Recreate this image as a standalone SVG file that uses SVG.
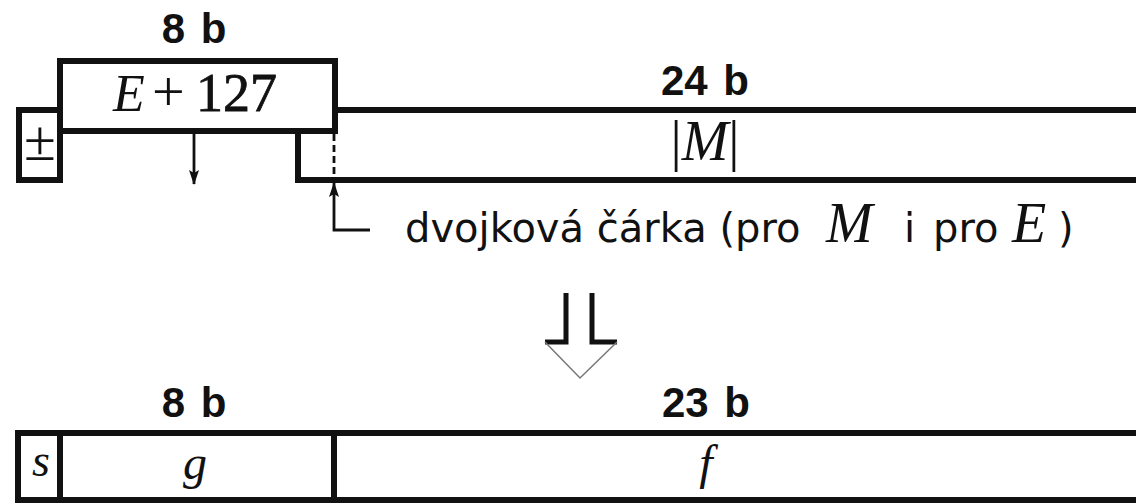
<svg xmlns="http://www.w3.org/2000/svg" width="1136" height="503" viewBox="0 0 1136 503">
<style>
.box{fill:none;stroke:#111;stroke-width:6;stroke-linecap:square;stroke-linejoin:miter}
.thin{fill:none;stroke:#111;stroke-width:2.8}
.bits{font-family:"Liberation Sans",Arial,sans-serif;font-weight:bold;font-size:42px;fill:#111;text-anchor:middle;word-spacing:4px}
.math{font-family:"Liberation Serif","Times New Roman",serif;fill:#111}
.it{font-style:italic}
.cap{font-family:"DejaVu Sans",sans-serif;font-size:40px;fill:#111}
</style>
<defs>
<marker id="ah" viewBox="0 0 15 10" refX="14" refY="5" markerWidth="15" markerHeight="10" markerUnits="userSpaceOnUse" orient="auto">
<path d="M0,0 L15,5 L0,10 L3,5 Z" fill="#111"/>
</marker>
</defs>
<rect width="1136" height="503" fill="#fff"/>

<g id="exponent">
<rect class="box" x="60" y="61" width="275" height="70"/>
<text class="bits" x="194" y="43">8 b</text>
<text class="math" y="111" font-size="52"><tspan class="it" x="113">E</tspan><tspan x="152" font-size="58">+</tspan><tspan x="196" font-size="54" stroke="#111" stroke-width="0.8">127</tspan></text>
</g>

<g id="sign">
<path class="box" d="M60,110 H19 V180 H60 V131"/>
<text class="math" x="40" y="160" font-size="58" text-anchor="middle">±</text>
</g>

<g id="mantissa">
<path class="box" d="M335,110 H1140 M1140,180 H298 V131"/>
<text class="bits" x="705" y="95">24 b</text>
<text class="math" x="705" y="160" font-size="56" text-anchor="middle">|<tspan class="it">M</tspan>|</text>
</g>

<g id="caption">
<text class="cap" y="242"><tspan x="405">dvojková čárka (pro</tspan><tspan class="math it" x="826" font-size="56">M</tspan><tspan x="904">i</tspan><tspan x="933">pro</tspan><tspan class="math it" x="1012" font-size="56">E</tspan><tspan x="1058">)</tspan></text>
</g>

<g id="connectors">
<line x1="334" y1="134" x2="334" y2="178" stroke="#111" stroke-width="2.8" stroke-dasharray="7,4"/>
<line class="thin" x1="194" y1="134" x2="194" y2="184" marker-end="url(#ah)"/>
<path class="thin" d="M370,230 H334 V183" marker-end="url(#ah)"/>
<path d="M566,293 V342 H545 M592,293 V342 H617" fill="none" stroke="#111" stroke-width="5"/>
<path d="M545,342 L580,378 L617,342" fill="none" stroke="#777" stroke-width="1.5"/>
</g>

<g id="result">
<text class="bits" x="194" y="417">8 b</text>
<text class="bits" x="706" y="417">23 b</text>
<path class="box" d="M1140,433 H18 V500 H1140 M60,433 V500 M334,433 V500"/>
<text class="math it" x="41" y="476" font-size="46" text-anchor="middle">s</text>
<text class="math it" x="195" y="479" font-size="48" text-anchor="middle">g</text>
<text class="math it" x="706" y="479" font-size="48" text-anchor="middle">f</text>
</g>
</svg>
